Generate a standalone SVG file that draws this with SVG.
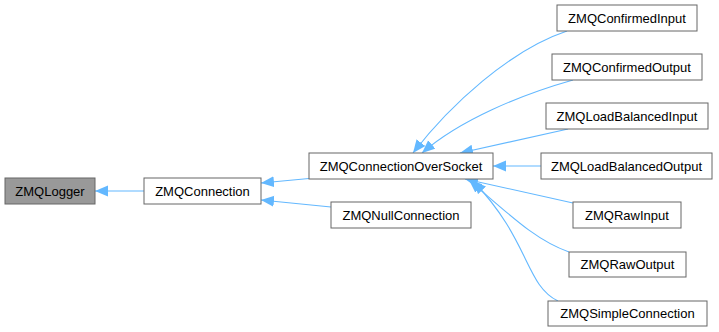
<svg xmlns="http://www.w3.org/2000/svg" width="719" height="332" viewBox="0 0 719 332">
<style>
.n rect{fill:#fff;stroke:#666;stroke-width:1}
.n text{font-family:"Liberation Sans",Arial,sans-serif;font-size:13px;fill:#000;text-anchor:middle}
#logger rect{fill:#999}
.e path{fill:none;stroke:#63b8ff;stroke-width:1.1}
</style>
<defs>
<marker id="ah" markerUnits="userSpaceOnUse" markerWidth="14" markerHeight="12" refX="13" refY="5.5" orient="auto">
<path d="M0,0 L13,5.5 L0,11 z" fill="#63b8ff"/>
</marker>
</defs>
<g id="edges" class="e">
<path d="M144,191 L95,191" marker-end="url(#ah)"/>
<path d="M309,178.5 L261,183" marker-end="url(#ah)"/>
<path d="M331,207 L261,200" marker-end="url(#ah)"/>
<path d="M567,31 C510,50 450,105 413,153" marker-end="url(#ah)"/>
<path d="M573,80 C520,95 460,120 422,153" marker-end="url(#ah)"/>
<path d="M568,129 L460,153" marker-end="url(#ah)"/>
<path d="M541,166 L493,166" marker-end="url(#ah)"/>
<path d="M573,203 L465,179" marker-end="url(#ah)"/>
<path d="M569,252 C535,240 510,215 469,180" marker-end="url(#ah)"/>
<path d="M558,301 C525,285 530,240 473,181" marker-end="url(#ah)"/>
</g>
<g id="logger" class="n"><rect x="5" y="178" width="90" height="26"/><text x="50" y="195.5">ZMQLogger</text></g>
<g id="connection" class="n"><rect x="144" y="178" width="117" height="26"/><text x="202.5" y="195.5">ZMQConnection</text></g>
<g id="overSocket" class="n"><rect x="309" y="153" width="184" height="26"/><text x="401" y="170.5">ZMQConnectionOverSocket</text></g>
<g id="nullConnection" class="n"><rect x="331" y="202" width="140" height="26"/><text x="401" y="219.5">ZMQNullConnection</text></g>
<g id="confirmedInput" class="n"><rect x="557" y="5" width="140" height="26"/><text x="627" y="22.5">ZMQConfirmedInput</text></g>
<g id="confirmedOutput" class="n"><rect x="552" y="54" width="150" height="26"/><text x="627" y="71.5">ZMQConfirmedOutput</text></g>
<g id="lbInput" class="n"><rect x="546" y="103" width="162" height="26"/><text x="627" y="120.5">ZMQLoadBalancedInput</text></g>
<g id="lbOutput" class="n"><rect x="541" y="153" width="171" height="26"/><text x="626.5" y="170.5">ZMQLoadBalancedOutput</text></g>
<g id="rawInput" class="n"><rect x="573" y="202" width="108" height="26"/><text x="627" y="219.5">ZMQRawInput</text></g>
<g id="rawOutput" class="n"><rect x="569" y="252" width="117" height="25"/><text x="627.5" y="269">ZMQRawOutput</text></g>
<g id="simpleConnection" class="n"><rect x="548" y="301" width="159" height="25"/><text x="627.5" y="318">ZMQSimpleConnection</text></g>
</svg>
